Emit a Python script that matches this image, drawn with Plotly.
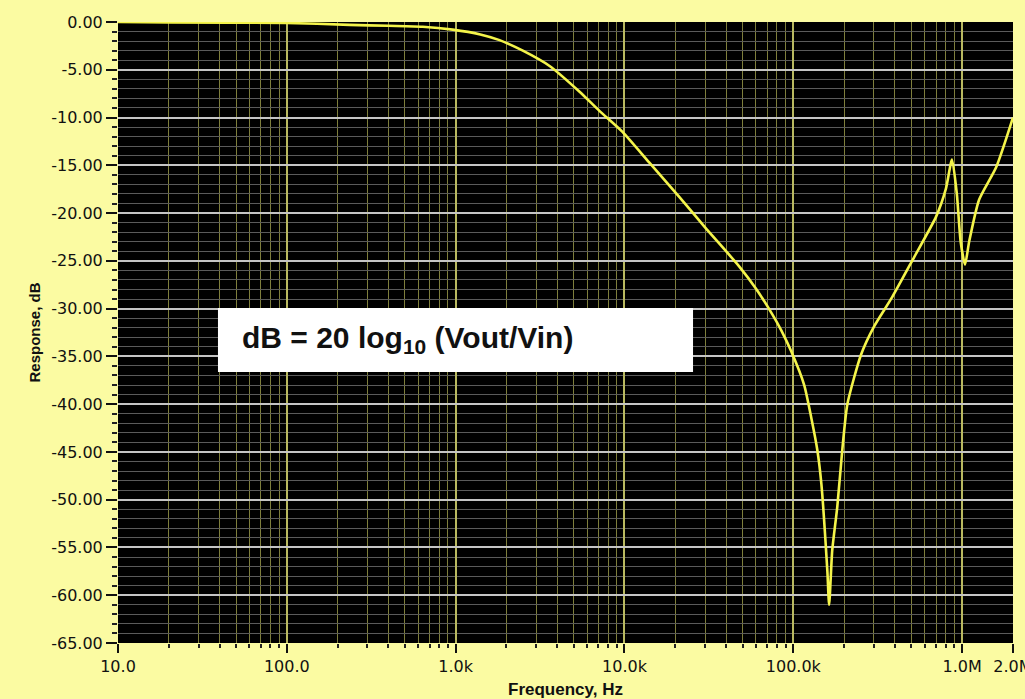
import plotly.graph_objects as go

# ---- data ----
freq_hz = [10, 20, 100, 236, 400, 638, 960, 1400, 1820, 2500, 3600, 5420, 7100, 9730,
           14000, 21100, 30000, 47900, 60000, 75100, 85000, 97300, 116000, 128000,
           138700, 146500, 159000, 163000, 170000, 182000, 195000, 209000, 252000,
           300000, 385000, 520000, 700000, 800000, 871000, 930000, 980000, 1040000,
           1100000, 1260000, 1590000, 2000000]
response_db = [0.0, -0.05, -0.1, -0.3, -0.4, -0.5, -0.8, -1.3, -1.9, -3.0, -4.6, -7.3, -9.3, -11.5,
               -14.7, -18.3, -21.5, -25.6, -27.9, -30.6, -32.3, -34.5, -38.0, -41.5,
               -44.8, -48.3, -57.4, -61.0, -55.3, -50.8, -44.8, -40.0, -34.8,
               -31.9, -28.8, -24.6, -20.4, -17.5, -14.4, -18.0, -23.0, -25.4,
               -23.0, -18.6, -15.2, -10.0]

x_tick_vals = [10, 100, 1000, 10000, 100000, 1000000, 2000000]
x_tick_text = ["10.0", "100.0", "1.0k", "10.0k", "100.0k", "1.0M", "2.0M"]
x_minor_vals = [m * 10 ** k for k in range(1, 6) for m in range(2, 10)]
y_tick_vals = list(range(0, -66, -5))
y_tick_text = ["%.2f" % v for v in y_tick_vals]
y_minor_vals = [v for v in range(0, -66, -1) if v % 5 != 0]

formula_text = "<b>dB = 20 log<sub>10</sub> (Vout/Vin)</b>"

fig = go.Figure()
fig.add_trace(go.Scatter(
    x=freq_hz, y=response_db, mode="lines",
    line=dict(color="#F4F44A", width=2.6, shape="spline", smoothing=0.6),
    hoverinfo="skip", showlegend=False,
))

tick_font = dict(family="DejaVu Sans", size=16, color="#111111")

fig.update_layout(
    width=1025, height=699,
    margin=dict(l=118, r=12, t=22, b=56),
    paper_bgcolor="#FBFBA2",
    plot_bgcolor="#000000",
    showlegend=False,
    xaxis=dict(
        type="log", range=[1, 6.3012],
        tickmode="array", tickvals=x_tick_vals, ticktext=x_tick_text,
        tickfont=tick_font, ticklabeloverflow="allow",
        ticks="outside", ticklen=9, tickwidth=2, tickcolor="#111",
        showgrid=True, gridcolor="#B8B860", gridwidth=1.5,
        minor=dict(tickmode="array", tickvals=x_minor_vals, ticks="outside",
                   ticklen=4, tickwidth=2, tickcolor="#222",
                   showgrid=True, gridcolor="#7E7E3C", gridwidth=1),
        showline=False, zeroline=False,
        title=dict(text="<b>Frequency, Hz</b>", standoff=8,
                   font=dict(family="Liberation Sans", size=17, color="#111")),
        automargin=False,
    ),
    yaxis=dict(
        range=[-65, 0],
        tickmode="array", tickvals=y_tick_vals, ticktext=y_tick_text,
        tickfont=tick_font,
        ticks="outside", ticklen=11, tickwidth=2, tickcolor="#111",
        showgrid=True, gridcolor="#C4C4C4", gridwidth=1.5,
        minor=dict(tickmode="array", tickvals=y_minor_vals, ticks="outside",
                   ticklen=5, tickwidth=2, tickcolor="#222",
                   showgrid=True, gridcolor="#5A5A5A", gridwidth=1),
        showline=False, zeroline=False,
        title=dict(text="<b>Response, dB</b>", standoff=6,
                   font=dict(family="Liberation Sans", size=15, color="#111")),
        automargin=False,
    ),
    shapes=[dict(type="rect", xref="paper", yref="paper",
                 x0=0.1117, x1=0.6425, y0=0.4364, y1=0.5395,
                 fillcolor="white", line=dict(width=0), layer="above")],
    annotations=[dict(text=formula_text, xref="paper", yref="paper",
                      x=0.1363, y=0.488, xanchor="left", yanchor="middle",
                      showarrow=False,
                      font=dict(family="Liberation Sans", size=30, color="#111"))],
)

fig.write_html("out.html")
